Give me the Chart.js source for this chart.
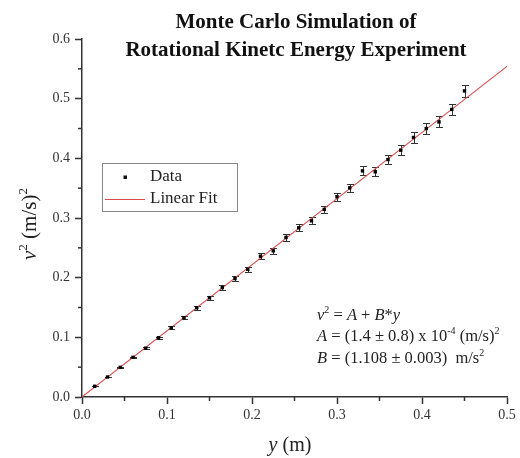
<!DOCTYPE html>
<html>
<head>
<meta charset="utf-8">
<script src="https://cdn.jsdelivr.net/npm/chart.js@4/dist/chart.umd.min.js"></script>
<style>
  html, body { margin: 0; padding: 0; background: #fff; }
  #wrap { width: 520px; height: 458px; position: relative; }
</style>
</head>
<body>
<div id="wrap"><canvas id="chart"></canvas></div>
<script>
// measured positions y (m)
const yPos = [
  0.015, 0.03, 0.045, 0.06, 0.075, 0.09, 0.105, 0.12, 0.135, 0.15,
  0.165, 0.18, 0.195, 0.21, 0.225, 0.24, 0.255, 0.27, 0.285, 0.3,
  0.315, 0.33, 0.345, 0.36, 0.375, 0.39, 0.405, 0.42, 0.435, 0.45
];
// v^2 (m/s)^2
const v2 = [
  0.0180, 0.0335, 0.0497, 0.0665, 0.0818, 0.0993, 0.1161, 0.1330, 0.1496, 0.1663,
  0.1834, 0.1985, 0.2140, 0.2360, 0.2450, 0.2675, 0.2836, 0.2953, 0.3144, 0.3356,
  0.3506, 0.3790, 0.3774, 0.3980, 0.4137, 0.4350, 0.4500, 0.4610, 0.4820, 0.5130
];
const v2Err = [
  0.0004, 0.0007, 0.0010, 0.0013, 0.0016, 0.0020, 0.0023, 0.0027, 0.0030, 0.0033,
  0.0037, 0.0040, 0.0043, 0.0047, 0.0050, 0.0053, 0.0057, 0.0060, 0.0063, 0.0067,
  0.0070, 0.0075, 0.0075, 0.0080, 0.0083, 0.0087, 0.0090, 0.0093, 0.0097, 0.0105
];
// linear fit end points (v^2 = A + B*y)
const fitX = [0, 0.5];
const fitY = [0.00014, 0.55414];

const xTicks = [0, 0.1, 0.2, 0.3, 0.4, 0.5];
const yTicks = [0, 0.1, 0.2, 0.3, 0.4, 0.5, 0.6];

const SERIF = '"Liberation Serif", "Times New Roman", serif';
const AXIS = "#333";
const FIT_RED = "#dd4b4b";

const isMajor = (v) => Math.abs(v * 10 - Math.round(v * 10)) < 1e-6;

// draws a run of text pieces with their own font / raise
const drawRuns = (ctx, x, y, runs) => {
  let cx = x;
  runs.forEach((r) => {
    ctx.font = r.font;
    ctx.fillText(r.t, cx, y - (r.up || 0));
    cx += ctx.measureText(r.t).width;
  });
  return cx - x;
};
const runsWidth = (ctx, runs) => {
  let w = 0;
  runs.forEach((r) => {
    ctx.font = r.font;
    w += ctx.measureText(r.t).width;
  });
  return w;
};

const f = (size, style) => (style ? style + " " : "") + size + "px " + SERIF;

const extras = {
  id: "extras",
  beforeDatasetsDraw(chart) {
    const ctx = chart.ctx;
    const xs = chart.scales.x;
    const ys = chart.scales.y;
    ctx.save();
    ctx.strokeStyle = "#333";
    ctx.lineWidth = 1;
    yPos.forEach((x, i) => {
      const px = Math.round(xs.getPixelForValue(x)) + 0.5;
      const top = Math.round(ys.getPixelForValue(v2[i] + v2Err[i])) + 0.5;
      const bot = Math.round(ys.getPixelForValue(v2[i] - v2Err[i])) + 0.5;
      ctx.beginPath();
      ctx.moveTo(px, top);
      ctx.lineTo(px, bot);
      ctx.moveTo(px - 3.5, top);
      ctx.lineTo(px + 3.5, top);
      ctx.moveTo(px - 3.5, bot);
      ctx.lineTo(px + 3.5, bot);
      ctx.stroke();
    });
    ctx.restore();
  },
  afterDraw(chart) {
    const ctx = chart.ctx;
    const xs = chart.scales.x;
    const ys = chart.scales.y;
    const area = chart.chartArea;
    ctx.save();

    // minor ticks
    ctx.strokeStyle = AXIS;
    ctx.lineWidth = 1.5;
    xs.ticks.forEach((t) => {
      if (isMajor(t.value)) return;
      const px = xs.getPixelForValue(t.value);
      ctx.beginPath();
      ctx.moveTo(px, area.bottom);
      ctx.lineTo(px, area.bottom + 4);
      ctx.stroke();
    });
    ys.ticks.forEach((t) => {
      if (isMajor(t.value)) return;
      const py = ys.getPixelForValue(t.value);
      ctx.beginPath();
      ctx.moveTo(area.left, py);
      ctx.lineTo(area.left - 4, py);
      ctx.stroke();
    });

    // title
    ctx.fillStyle = "#111";
    ctx.textAlign = "center";
    ctx.textBaseline = "alphabetic";
    ctx.font = f(21, "bold");
    ctx.fillText("Monte Carlo Simulation of", 296, 28);
    ctx.fillText("Rotational Kinetc Energy Experiment", 296, 56);

    // x axis title
    ctx.textAlign = "left";
    ctx.fillStyle = "#222";
    const xt = [
      { t: "y", font: f(20, "italic") },
      { t: " (m)", font: f(20) }
    ];
    drawRuns(ctx, 290 - runsWidth(ctx, xt) / 2, 451, xt);

    // y axis title
    const yt = [
      { t: "v", font: f(21, "italic") },
      { t: "2", font: f(13), up: 9 },
      { t: " (m/s)", font: f(21) },
      { t: "2", font: f(13), up: 9 }
    ];
    ctx.save();
    ctx.translate(36, 224);
    ctx.rotate(-Math.PI / 2);
    drawRuns(ctx, -runsWidth(ctx, yt) / 2, 0, yt);
    ctx.restore();

    // legend
    ctx.fillStyle = "#fff";
    ctx.fillRect(102, 163, 135, 48);
    ctx.strokeStyle = "#888";
    ctx.lineWidth = 1;
    ctx.strokeRect(102.5, 163.5, 135, 48);
    ctx.fillStyle = "#111";
    ctx.fillRect(123.5, 175.5, 3.5, 3.5);
    ctx.strokeStyle = FIT_RED;
    ctx.beginPath();
    ctx.moveTo(105, 199.5);
    ctx.lineTo(145, 199.5);
    ctx.stroke();
    ctx.fillStyle = "#222";
    ctx.font = f(17);
    ctx.textBaseline = "middle";
    ctx.fillText("Data", 150, 177);
    ctx.fillText("Linear Fit", 150, 199);

    // fit annotation
    ctx.textBaseline = "alphabetic";
    drawRuns(ctx, 317, 320, [
      { t: "v", font: f(16.5, "italic") },
      { t: "2", font: f(10), up: 7 },
      { t: " = ", font: f(16.5) },
      { t: "A", font: f(16.5, "italic") },
      { t: " + ", font: f(16.5) },
      { t: "B", font: f(16.5, "italic") },
      { t: "*", font: f(16.5) },
      { t: "y", font: f(16.5, "italic") }
    ]);
    drawRuns(ctx, 317, 341, [
      { t: "A", font: f(16.5, "italic") },
      { t: " = (1.4 \u00b1 0.8) x 10", font: f(16.5) },
      { t: "-4", font: f(10), up: 7 },
      { t: " (m/s)", font: f(16.5) },
      { t: "2", font: f(10), up: 7 }
    ]);
    drawRuns(ctx, 317, 363, [
      { t: "B", font: f(16.5, "italic") },
      { t: " = (1.108 \u00b1 0.003)  m/s", font: f(16.5) },
      { t: "2", font: f(10), up: 7 }
    ]);

    ctx.restore();
  }
};

const chart = new Chart(document.getElementById("chart"), {
  type: "scatter",
  data: {
    datasets: [
      {
        label: "Data",
        data: yPos.map((x, i) => ({ x: x, y: v2[i] })),
        pointStyle: "rect",
        pointRadius: 2.4,
        backgroundColor: "#000",
        borderColor: "#000",
        borderWidth: 0
      },
      {
        label: "Linear Fit",
        type: "line",
        data: fitX.map((x, i) => ({ x: x, y: fitY[i] })),
        borderColor: FIT_RED,
        borderWidth: 1.2,
        pointRadius: 0,
        fill: false
      }
    ]
  },
  options: {
    responsive: true,
    maintainAspectRatio: false,
    animation: false,
    layout: { padding: { top: 39, right: 13, left: 0, bottom: 0 } },
    plugins: {
      legend: { display: false },
      tooltip: { enabled: false }
    },
    scales: {
      x: {
        type: "linear",
        min: 0,
        max: 0.5,
        afterFit: (s) => { s.height = 61; },
        border: { color: AXIS, width: 1.5 },
        grid: {
          drawOnChartArea: false,
          tickLength: 7,
          tickWidth: 1.5,
          tickColor: (c) => (c.tick && isMajor(c.tick.value) ? AXIS : "rgba(0,0,0,0)")
        },
        ticks: {
          stepSize: 0.05,
          autoSkip: false,
          maxRotation: 0,
          padding: 3,
          color: "#333",
          font: { family: SERIF, size: 14 },
          callback: (v) => {
            const hit = xTicks.find((t) => Math.abs(t - v) < 1e-6);
            return hit === undefined ? "" : hit.toFixed(1);
          }
        }
      },
      y: {
        type: "linear",
        min: 0,
        max: 0.6,
        afterFit: (s) => { s.width = 82; },
        border: { color: AXIS, width: 1.5 },
        grid: {
          drawOnChartArea: false,
          tickLength: 7,
          tickWidth: 1.5,
          tickColor: (c) => (c.tick && isMajor(c.tick.value) ? AXIS : "rgba(0,0,0,0)")
        },
        ticks: {
          stepSize: 0.05,
          autoSkip: false,
          padding: 5,
          color: "#333",
          font: { family: SERIF, size: 14 },
          callback: (v) => {
            const hit = yTicks.find((t) => Math.abs(t - v) < 1e-6);
            return hit === undefined ? "" : hit.toFixed(1);
          }
        }
      }
    }
  },
  plugins: [extras]
});
</script>
</body>
</html>
